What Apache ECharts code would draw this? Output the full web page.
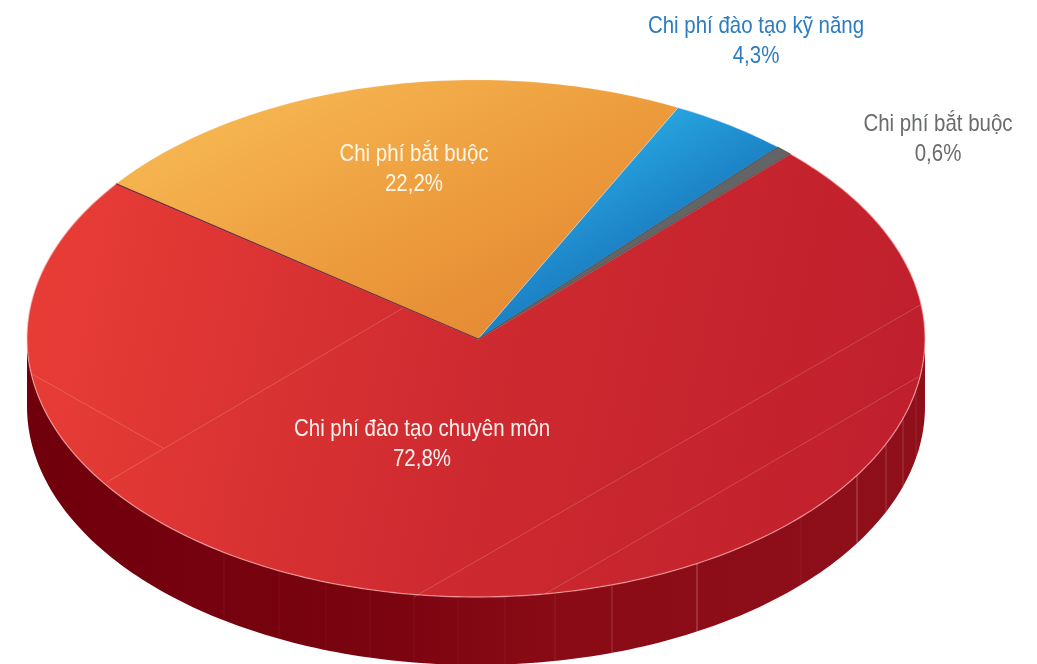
<!DOCTYPE html>
<html>
<head>
<meta charset="utf-8">
<style>
    html, body { margin: 0; padding: 0; background: #fff; }
    #chart { width: 1037px; height: 664px; }
</style>
</head>
<body>
<div id="chart"></div>
<script src="https://cdn.jsdelivr.net/npm/echarts@6/dist/echarts.min.js"></script>
<script>
    // du lieu doc tu hinh
    const categories = ['Chi phí đào tạo chuyên môn', 'Chi phí bắt buộc', 'Chi phí đào tạo kỹ năng', 'Chi phí bắt buộc']
    const shareValues = [72.8, 22.2, 4.3, 0.6]

    const CX = 476, CY = 338.5, RX = 449, RY = 258.5, DEPTH = 68
    const START_DEG = 45.6 // goc bat dau cua lat do, di theo chieu kim dong ho
    const FONT = '"Liberation Sans", sans-serif'

    const labelPos = [[422, 444], [414, 169], [756, 41], [938, 139]]
    const labelColor = ['#fdf1ee', '#fff6e8', '#2b7cc0', '#6a6b6d']
    const fills = [
        { x: 60, y: 300, x2: 880, y2: 470, stops: ['#e73c36', '#ce2a30', '#c0202d'] },
        { x: 170, y: 110, x2: 370, y2: 510, stops: ['#f7b953', '#ec9a3b', '#df7f2e'] },
        { x: 650, y: 120, x2: 720, y2: 235, stops: ['#27a5df', '#1f8bcd', '#1875b8'] },
        { x: 0, y: 0, x2: 1037, y2: 0, stops: ['#636466', '#636466', '#636466'] }
    ]
    const strokes = ['rgba(255,190,190,0.6)', 'rgba(255,225,190,0.2)', 'rgba(205,232,250,0.5)', 'rgba(50,50,52,0.6)']

    // duong trang tri tren mat va thanh ben
    const sideSeams = [[224, .06], [279, .06], [326, .06], [370, .06], [414, .06], [458, .04], [505, .07], [555, .09], [612, .2], [697, .3], [801, .07], [857, .3], [886, .2], [903, .18], [916, .1]]
    const faceLines = [[[107, 482], [403, 308]], [[32, 374], [163, 448]], [[922, 304], [414, 597]], [[918, 377], [545, 594]]]

    function rim(deg, drop) {
        const a = deg * Math.PI / 180
        return [CX + RX * Math.cos(a), CY - RY * Math.sin(a) + (drop || 0)]
    }
    function gradient(f) {
        return {
            type: 'linear', global: true, x: f.x, y: f.y, x2: f.x2, y2: f.y2,
            colorStops: [{ offset: 0, color: f.stops[0] }, { offset: .5, color: f.stops[1] }, { offset: 1, color: f.stops[2] }]
        }
    }
    function sidePart() {
        const pts = []
        for (let d = 180; d <= 360; d += 1) pts.push(rim(d))
        for (let d = 360; d >= 180; d -= 1) pts.push(rim(d, DEPTH))
        const list = [{
            type: 'polygon',
            shape: { points: pts },
            style: {
                fill: {
                    type: 'linear', global: true, x: 27, y: 0, x2: 925, y2: 0,
                    colorStops: [{ offset: 0, color: '#70000c' }, { offset: .4, color: '#7a0410' }, { offset: .6, color: '#8a0b15' }, { offset: 1, color: '#8f0f1a' }]
                }
            }
        }]
        sideSeams.forEach(s => {
            const dx = (s[0] - CX) / RX
            const y = CY + RY * Math.sqrt(1 - dx * dx)
            list.push({
                type: 'line',
                shape: { x1: s[0], y1: y, x2: s[0], y2: y + DEPTH },
                style: { stroke: 'rgba(255,255,255,' + s[1] + ')', lineWidth: 1 }
            })
        })
        return list
    }
    const total = shareValues.reduce((cur, pre) => cur + pre, 0)
    let used = 0
    const data = shareValues.map(v => {
        const row = [v, used]
        used += v
        return row
    })

    const myChart = echarts.init(document.getElementById('chart'), null, { renderer: 'canvas' })
    const option = {
        animation: false,
        backgroundColor: '#fff',
        series: [{
            type: 'custom',
            coordinateSystem: 'none',
            silent: true,
            data: data,
            renderItem: function (params, api) {
                const i = params.dataIndex
                const from = START_DEG - api.value(1) / total * 360
                const to = from - api.value(0) / total * 360
                const pts = [[CX + 2, CY + .5]]
                for (let d = from; d > to; d -= 1) pts.push(rim(d))
                pts.push(rim(to))
                let children = []
                if (i === 0) children = sidePart()
                children.push({
                    type: 'polygon',
                    shape: { points: pts },
                    style: { fill: gradient(fills[i]), stroke: strokes[i], lineWidth: i === 0 ? 1.3 : 1, lineJoin: 'round' }
                })
                if (i === 0) {
                    faceLines.forEach(l => children.push({
                        type: 'line',
                        shape: { x1: l[0][0], y1: l[0][1], x2: l[1][0], y2: l[1][1] },
                        style: { stroke: 'rgba(255,255,255,0.17)', lineWidth: 1 }
                    }))
                }
                if (i === 1) {
                    // vien toi giua cam va do
                    const p = rim(from)
                    children.push({
                        type: 'line',
                        shape: { x1: p[0], y1: p[1], x2: CX + 2, y2: CY + .5 },
                        style: { stroke: '#6d2a3c', lineWidth: 1.2 }
                    })
                }
                children.push({
                    type: 'text',
                    x: labelPos[i][0],
                    y: labelPos[i][1],
                    scaleX: .853, // font goc la loai hep
                    style: {
                        x: 0,
                        y: 0,
                        text: categories[i] + '\n' + api.value(0).toFixed(1).replace('.', ',') + '%',
                        fill: labelColor[i],
                        font: '24px ' + FONT,
                        lineHeight: 30,
                        align: 'center',
                        verticalAlign: 'middle'
                    }
                })
                return { type: 'group', children: children }
            }
        }]
    }
    myChart.setOption(option)
</script>
</body>
</html>
